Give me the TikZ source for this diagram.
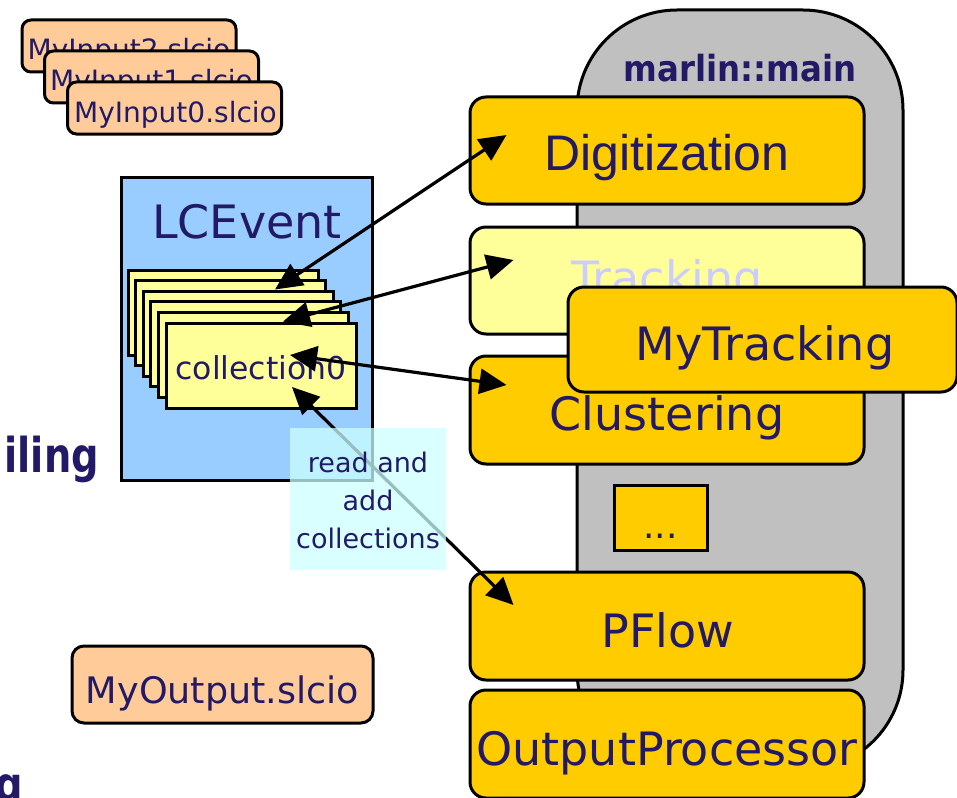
\documentclass[tikz,border=0pt]{standalone}
\usepackage{fontspec}
\setmainfont{DejaVu Sans}
\newfontfamily\arialfont{Liberation Sans}
\usetikzlibrary{arrows.meta,calc}
\definecolor{txt}{RGB}{34,26,102}
\definecolor{proc}{RGB}{255,204,0}
\definecolor{lyel}{RGB}{255,255,153}
\definecolor{mgray}{RGB}{192,192,192}
\definecolor{evblue}{RGB}{153,204,255}
\definecolor{filefill}{RGB}{255,204,153}
\definecolor{cyanbox}{RGB}{204,255,255}
\definecolor{ghost}{RGB}{204,204,255}
\newcommand\fsz[1]{\fontsize{#1}{#1}\selectfont}
\begin{document}
\begin{tikzpicture}[x=1pt,y=-1pt,
  box/.style={draw=black,line width=3pt,inner sep=0pt},
  procbox/.style={box,fill=proc,rounded corners=16pt,minimum width=394pt,minimum height=107pt},
  filebox/.style={box,fill=filefill,rounded corners=9pt},
  collbox/.style={box,fill=lyel,minimum width=190pt,minimum height=85pt},
  lbl/.style={anchor=base,inner sep=0pt,text=txt},
  arr/.style={line width=3.2pt,{Triangle[length=27pt,width=25pt]}-{Triangle[length=27pt,width=25pt]}}
]
\path[use as bounding box,clip] (0,0) rectangle (957,797);

% marlin::main container
\node[box,fill=mgray,rounded corners=100pt,minimum width=326pt,minimum height=760pt] (main) at (740,390) {};
\node[lbl,font=\bfseries\fsz{36},xscale=0.9,transform shape] (maint) at (740,82) {marlin::main};

% processors
\node[procbox] (dig) at (667,150.5) {};
\node[lbl,font=\arialfont\fsz{50}] (digt) at (667,170) {Digitization};

\node[procbox,fill=lyel] (trk) at (667,280.5) {};
\node[lbl,font=\fsz{46},text=ghost] (trkt) at (667,294) {Tracking};

\node[procbox,minimum height=108pt] (clu) at (667,410) {};
\node[lbl,font=\fsz{46}] (clut) at (667,430) {Clustering};

\node[procbox,minimum width=389pt,minimum height=105pt] (mytrk) at (762.5,339.5) {};
\node[lbl,font=\fsz{46}] (mytrkt) at (765,360) {MyTracking};

\node[box,fill=proc,minimum width=93pt,minimum height=65pt] (dots) at (660.5,517.5) {};
\node[lbl,font=\fsz{36}] (dotst) at (660.5,538) {...};

\node[procbox,minimum height=108pt] (pfl) at (667,626) {};
\node[lbl,font=\fsz{46}] (pflt) at (668,647) {PFlow};

\node[procbox,minimum height=108pt] (outp) at (667,744) {};
\node[lbl,font=\fsz{46}] (outpt) at (667,765) {OutputProcessor};

% input files
\node[filebox,minimum width=214pt,minimum height=52pt] (in2) at (129,46) {};
\node[lbl,font=\fsz{28}] (in2t) at (129,60) {MyInput2.slcio};
\node[filebox,minimum width=214pt,minimum height=52pt] (in1) at (151.5,77) {};
\node[lbl,font=\fsz{28}] (in1t) at (151.5,91) {MyInput1.slcio};
\node[filebox,minimum width=214pt,minimum height=52pt] (in0) at (174.5,108) {};
\node[lbl,font=\fsz{28}] (in0t) at (175.5,122) {MyInput0.slcio};

% LCEvent
\node[box,fill=evblue,minimum width=251pt,minimum height=303pt] (ev) at (246.5,328.5) {};
\node[lbl,font=\fsz{46}] (evt) at (247,238) {LCEvent};

\node[collbox] (coll5) at (223,312.5) {};
\node[collbox] (coll4) at (230.6,323.1) {};
\node[collbox] (coll3) at (238.2,333.7) {};
\node[collbox] (coll2) at (245.8,344.3) {};
\node[collbox] (coll1) at (253.4,354.9) {};
\node[collbox] (coll0) at (261,365.5) {};
\node[lbl,font=\fsz{31.5}] (coll0t) at (261,379) {collection0};

% output file
\node[filebox,minimum width=301pt,minimum height=77pt,rounded corners=12pt] (outf) at (222.5,684.5) {};
\node[lbl,font=\fsz{36.5}] (outft) at (222.5,703) {MyOutput.slcio};

% cut-off slide text
\node[anchor=base east,inner sep=0pt,text=txt,font=\bfseries\fsz{48},xscale=0.8,transform shape] (iling) at (99,472) {iling};
\node[anchor=base east,inner sep=0pt,text=txt,font=\bfseries\fsz{48},xscale=0.8,transform shape] (gch) at (23,801) {g};

% arrows
\coordinate (a1) at ($(dig.west)+(38,-15.5)$);
\coordinate (b1) at ($(coll4.north)+(44.4,10.4)$);
\coordinate (a2) at ($(trk.west)+(45,-20.5)$);
\coordinate (b2) at ($(coll0.north)+(22,0)$);
\coordinate (a3) at ($(clu.west)+(38,-25)$);
\coordinate (b3) at ($(coll0.center)+(29,-10.5)$);
\coordinate (a4) at ($(pfl.west)+(45,-21)$);
\coordinate (b4) at ($(coll0.center)+(31,21.5)$);
\draw[arr] (b1) -- (a1);
\draw[arr] (b2) -- (a2);
\draw[arr] (b3) -- (a3);
\draw[arr] (b4) -- (a4);

% note box
\node[fill=cyanbox,fill opacity=0.75,inner sep=0pt,minimum width=156pt,minimum height=142pt] (note) at (368,499) {};
\node[lbl,font=\fsz{27}] (n1) at (368,472) {read and};
\node[lbl,font=\fsz{27}] (n2) at (368,510) {add};
\node[lbl,font=\fsz{27}] (n3) at (368,548) {collections};
\end{tikzpicture}
\end{document}
